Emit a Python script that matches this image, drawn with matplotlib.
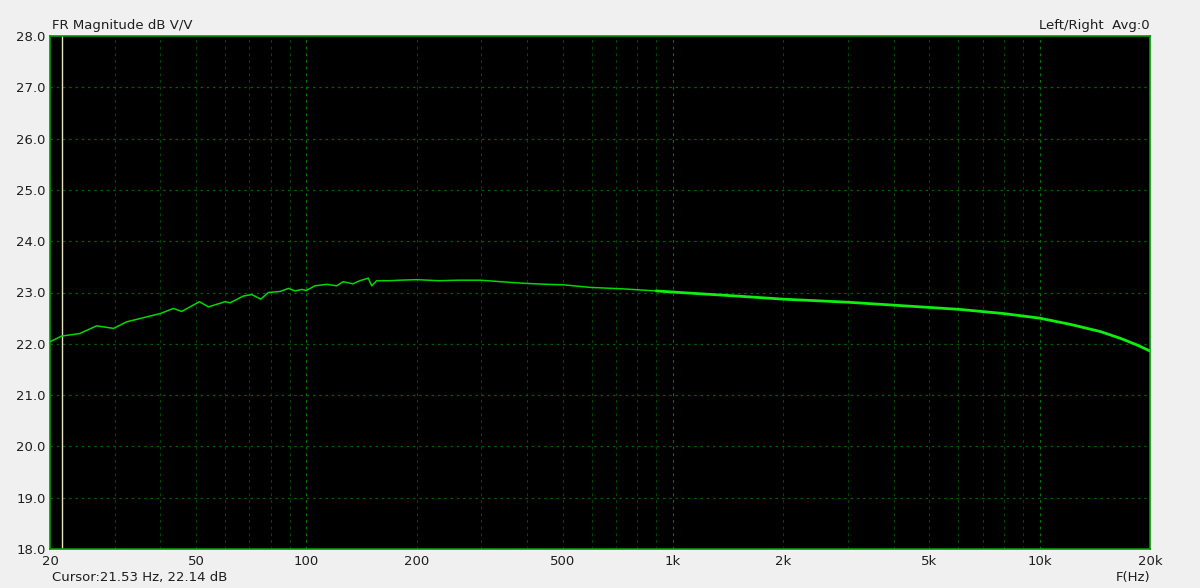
import matplotlib
matplotlib.use("Agg")
import matplotlib.pyplot as plt

# ---- data ----
freq_hz = [20, 21.5, 24.1, 26.8, 29.8, 32.4, 36, 40, 43.4, 45.7, 51.1, 54.1, 60, 62,
           67.3, 71, 75.1, 78.8, 84.8, 89.4, 93.2, 97.1, 100, 105.6, 113.7, 121, 126,
           134, 140, 147.6, 150.8, 155.6, 169, 180, 200, 230, 260, 298, 340, 391, 450,
           502, 594, 733, 903, 1046, 1500, 2000, 3008, 4970, 6066, 7962, 10000, 12106,
           14620, 16560, 18400, 20000]
mag_db = [22.04, 22.15, 22.20, 22.35, 22.30, 22.43, 22.51, 22.59, 22.69, 22.63, 22.82,
          22.72, 22.82, 22.80, 22.93, 22.96, 22.87, 23.00, 23.02, 23.08, 23.03, 23.06,
          23.04, 23.13, 23.16, 23.13, 23.21, 23.17, 23.23, 23.28, 23.13, 23.23, 23.23,
          23.24, 23.25, 23.23, 23.24, 23.24, 23.21, 23.18, 23.16, 23.15, 23.10, 23.07,
          23.03, 23.00, 22.93, 22.87, 22.81, 22.71, 22.67, 22.59, 22.50, 22.38, 22.24,
          22.11, 21.98, 21.86]
x_ticks = [20, 50, 100, 200, 500, 1000, 2000, 5000, 10000, 20000]
x_tick_labels = ["20", "50", "100", "200", "500", "1k", "2k", "5k", "10k", "20k"]
y_ticks = [18, 19, 20, 21, 22, 23, 24, 25, 26, 27, 28]
decade_lines = [100, 1000, 10000]
minor_lines = [30, 40, 50, 60, 70, 80, 90, 200, 300, 400, 500, 600, 700, 800, 900,
               2000, 3000, 4000, 5000, 6000, 7000, 8000, 9000]
cursor_hz = 21.53

plt.rcParams['font.family'] = ['DejaVu Sans']
FS = 9.5
TC = '#1e1e1e'

fig = plt.figure(figsize=(12, 5.88), dpi=100, facecolor='#f0f0f0')
ax = fig.add_axes([50/1200, 39/588, 1100/1200, 513/588])
ax.set_facecolor('black')
ax.set_xscale('log')
ax.set_xlim(20, 20000)
ax.set_ylim(18, 28)

# grid
for f in minor_lines:
    ax.axvline(f, color='#004a00', lw=0.8, ls=(0, (2.5, 3.5)), zorder=1)
for f in decade_lines:
    ax.axvline(f, color='#007a00', lw=0.8, ls=(0, (2.5, 3.5)), zorder=1)
for v in y_ticks[1:-1]:
    ax.axhline(v, color='#006000', lw=0.9, ls=(0, (2, 3)), zorder=1)

# cursor
ax.axvline(cursor_hz, color='#e6e6c0', lw=1.0, zorder=2)

# curve: thin at low frequency, denser/thicker look at high frequency
split = 44
ax.plot(freq_hz[:split + 1], mag_db[:split + 1], color='#00d800', lw=1.1, zorder=3)
ax.plot(freq_hz[split:], mag_db[split:], color='#10ee10', lw=2.0, zorder=3)

ax.set_xticks(x_ticks)
ax.set_xticklabels(x_tick_labels)
ax.xaxis.set_minor_locator(matplotlib.ticker.NullLocator())
ax.set_yticks(y_ticks)
ax.set_yticklabels([f"{v:.1f}" for v in y_ticks])
ax.tick_params(axis='both', length=0, labelsize=FS, colors=TC)
ax.tick_params(axis='x', pad=4)
ax.tick_params(axis='y', pad=3)

for s in ax.spines.values():
    s.set_color('#009a00')
    s.set_linewidth(1.2)

fig.text(52/1200, 1 - 26/588, "FR Magnitude dB V/V", fontsize=FS, color=TC,
         ha='left', va='center')
fig.text(1150/1200, 1 - 26/588, "Left/Right  Avg:0", fontsize=FS, color=TC,
         ha='right', va='center')
fig.text(52/1200, 1 - 578/588, "Cursor:21.53 Hz, 22.14 dB", fontsize=FS, color=TC,
         ha='left', va='center')
fig.text(1150/1200, 1 - 578/588, "F(Hz)", fontsize=FS, color=TC,
         ha='right', va='center')

fig.savefig("out.png", dpi=100, facecolor=fig.get_facecolor())
